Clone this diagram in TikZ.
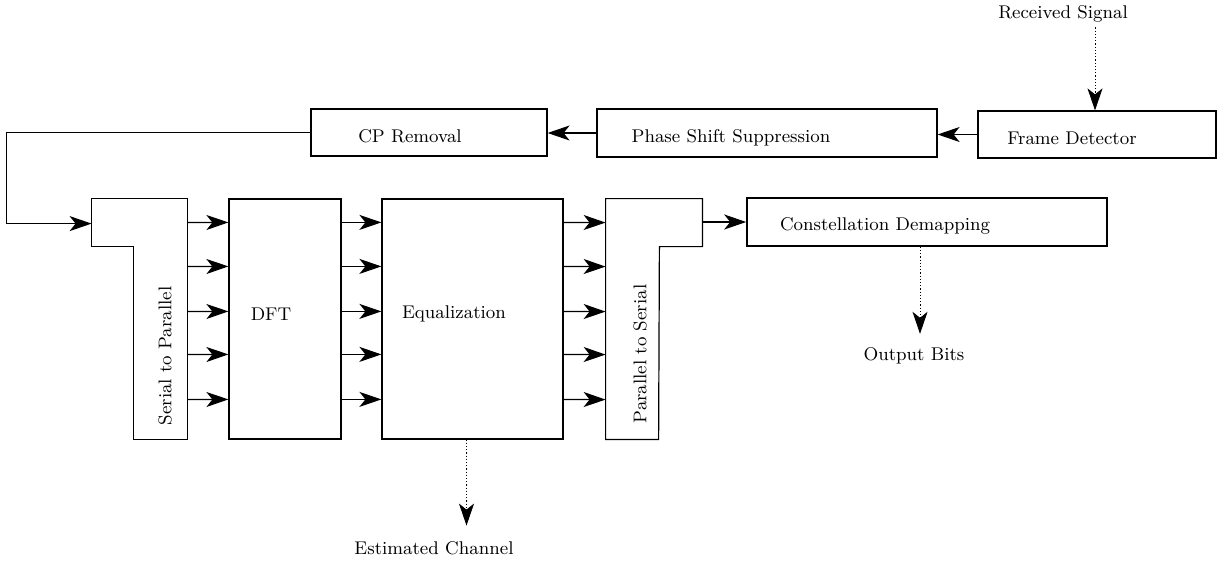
\documentclass[tikz,border=0pt]{standalone}
\usetikzlibrary{arrows.meta, positioning, calc}

\tikzset{
  block/.style={draw, semithick, rectangle, inner sep=0pt},
  lbl/.style={font=\fontsize{9.2}{11}\selectfont},
  arr/.style={-{Stealth[length=11pt, width=7.5pt, inset=3pt]}, semithick},
  darr/.style={arr, densely dotted, thin},
}

\begin{document}
\begin{tikzpicture}[x=0.5pt, y=-0.5pt]
\useasboundingbox (0,0) rectangle (1218,561);

% Top row
\node[block, minimum width=119pt, minimum height=23.5pt] (fd) at (1097,134.5) {};
\node[block, minimum width=170pt, minimum height=24pt] (pss) at (767,133) {};
\node[block, minimum width=118pt, minimum height=23.5pt] (cp) at (429,132.5) {};
\node[lbl] (fdtxt) at (1072,138) {Frame Detector};
\node[lbl] (psstxt) at (731,138) {Phase Shift Suppression};
\node[lbl] (cptxt) at (410,136) {CP Removal};

% Main row
\node[minimum width=47.5pt, minimum height=120pt, inner sep=0pt] (s2p) at (139.5,319) {};
\node[block, minimum width=56pt, minimum height=120pt] (dft) at (285,319) {};
\node[block, minimum width=90.5pt, minimum height=120pt] (eq) at (472.5,319) {};
\node[minimum width=48pt, minimum height=120pt, inner sep=0pt] (p2s) at (654,319) {};
\node[block, thick, minimum width=180pt, minimum height=24pt] (cd) at (927,222) {};

\draw[semithick] (s2p.north west) -- (s2p.north east) -- (s2p.south east)
  -- ($(s2p.south west)+(42,0)$) -- ($(s2p.north west)+(42,48)$)
  -- ($(s2p.north west)+(0,48)$) -- cycle;
\draw[semithick] (p2s.north west) -- (p2s.north east) -- ($(p2s.north east)+(0,48)$)
  -- ($(p2s.north east)+(-43,48)$) -- ($(p2s.south west)+(53,0)$)
  -- (p2s.south west) -- cycle;

\node[lbl, rotate=90] (s2ptxt) at (165,356) {Serial to Parallel};
\node[lbl, rotate=90] (p2stxt) at (640,354) {Parallel to Serial};
\node[lbl] (dfttxt) at (271,314) {DFT};
\node[lbl] (eqtxt) at (454,314) {Equalization};
\node[lbl] (cdtxt) at (885,226) {Constellation Demapping};

% Inputs and outputs
\node[lbl] (rs) at (1063,14) {Received Signal};
\node[lbl] (ob) at (914,356) {Output Bits};
\node[lbl] (ec) at (434,548) {Estimated Channel};

% Connectors
\draw[arr] (fd.west) -- (fd.west -| pss.east);
\draw[arr] (pss.west) -- (pss.west -| cp.east);
\draw[arr] (cp.west) -- ++(-304,0) |- ($(s2p.north west)+(0,25)$);
\foreach \d in {24,68,113,156,201} {
  \draw[arr] ($(s2p.north east)+(0,\d)$) -- ($(dft.north west)+(0,\d)$);
  \draw[arr] ($(dft.north east)+(0,\d)$) -- ($(eq.north west)+(0,\d)$);
  \draw[arr] ($(eq.north east)+(0,\d)$) -- ($(p2s.north west)+(0,\d)$);
}
\draw[arr] (cd.west -| p2s.east) -- (cd.west);

% Dotted signal paths
\coordinate (rsin) at ($(fd.north)+(-2,-83)$);
\coordinate (obout) at ($(cd.south)+(-7,0)$);
\coordinate (ecout) at ($(eq.south)+(-6,0)$);
\draw[darr] (rsin) -- (rsin |- fd.north);
\draw[darr] (obout) -- ($(obout)+(0,87)$);
\draw[darr] (ecout) -- ($(ecout)+(0,86)$);
\end{tikzpicture}
\end{document}
